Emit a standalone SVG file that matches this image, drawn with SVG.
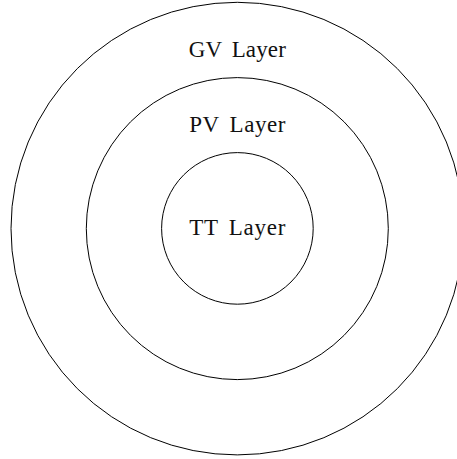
<svg xmlns="http://www.w3.org/2000/svg" width="457" height="459" viewBox="0 0 457 459">
<style>
.ring{fill:none;stroke:#000;stroke-width:1}
.lbl{font-family:"Liberation Serif","DejaVu Serif",serif;font-size:23px;fill:#111;text-anchor:middle;word-spacing:4px}
</style>
<rect width="457" height="459" fill="#fff"/>
<g id="gv">
<circle class="ring" cx="237.3" cy="228.6" r="226.3"/>
<text class="lbl" x="237.3" y="57.3" textLength="97" lengthAdjust="spacing">GV Layer</text>
</g>
<g id="pv">
<circle class="ring" cx="237.3" cy="228.6" r="151"/>
<text class="lbl" x="237.3" y="131.7" textLength="96" lengthAdjust="spacing">PV Layer</text>
</g>
<g id="tt">
<circle class="ring" cx="237.4" cy="228.4" r="75.8"/>
<text class="lbl" x="237.3" y="235" textLength="96" lengthAdjust="spacing">TT Layer</text>
</g>
<g id="connectors"></g>
</svg>
